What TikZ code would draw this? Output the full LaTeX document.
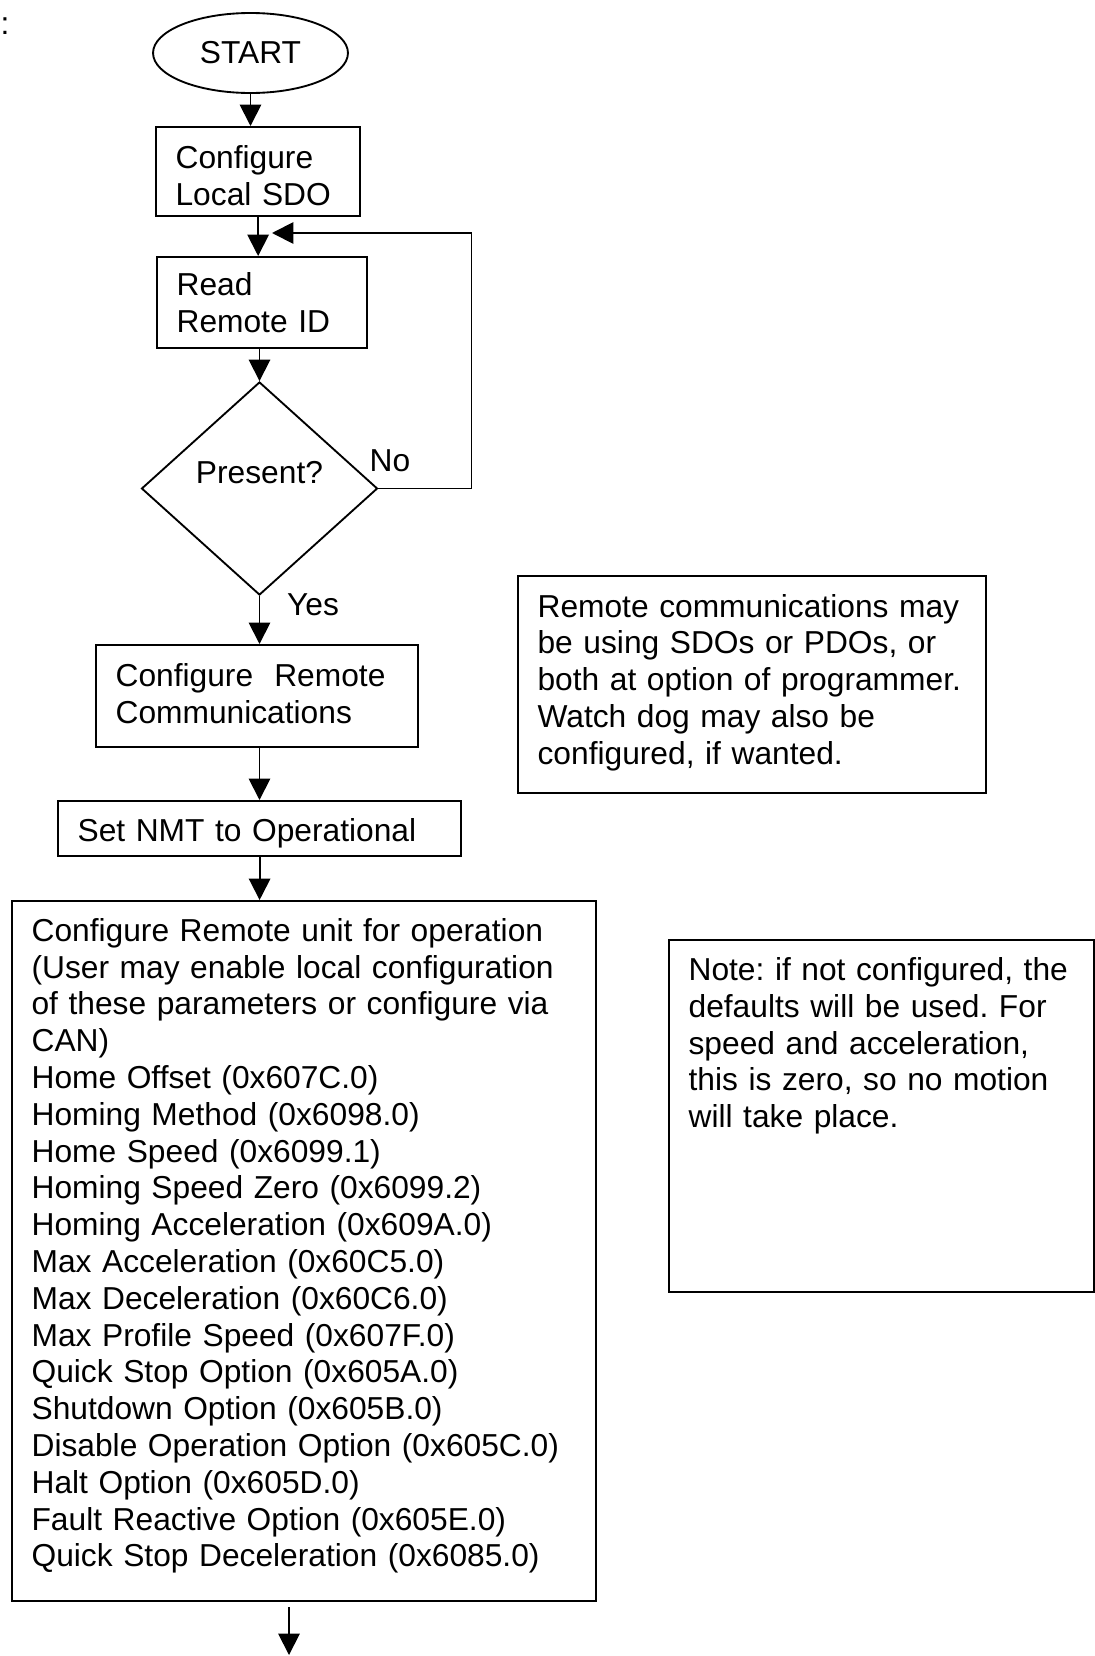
\documentclass[tikz,border=0pt]{standalone}
\usepackage{fontspec}
\setmainfont{Liberation Sans}
\usepackage{tikz}
\usetikzlibrary{positioning,arrows.meta,shapes.geometric,calc}

\begin{document}
\frenchspacing
\begin{tikzpicture}[x=0.375pt,y=-0.375pt,
    font=\fontsize{11.9}{13.8}\selectfont,
    procbox/.style={draw,line width=0.85pt,rectangle,anchor=north west,align=left,inner xsep=7.3pt,inner ysep=0pt},
    arr/.style={line width=0.7pt,-{Triangle[length=8pt,width=8pt]}}]
  \useasboundingbox (0,0) rectangle (1095,1656);
  % stray colon, top left
  \node (colon) at (5,26) {:};
  % main column
  \node[draw,ellipse,line width=0.7pt,minimum width=73.1pt,minimum height=30pt,inner sep=0pt] (start) at (250.5,53) {START};
  \node[procbox,text width=61.9pt,minimum height=33.4pt,text height=11.6pt] (local) at (155,126) {Configure\\Local SDO};
  \node[procbox,text width=64.15pt,minimum height=34.1pt] (read) at (156,256) {Read\\Remote ID};
  \node[draw,diamond,line width=0.7pt,minimum width=88.5pt,minimum height=79.9pt,inner sep=0pt,
        text height=8.6pt,text depth=12pt] (present) at (259.5,488.5) {Present?};
  \node[procbox,text width=106.15pt,minimum height=38.25pt,text depth=15.8pt] (remote) at (95,644) {Configure\ \ Remote\\Communications};
  \node[procbox,text width=136.5pt,minimum height=20.6pt,text height=12pt,text depth=2.5pt] (nmt) at (57,800) {Set NMT to Operational};
  \node[procbox,text width=204.4pt,minimum height=262.5pt,text depth=241pt] (params) at (11,900) {Configure Remote unit for operation\\
    (User may enable local configuration\\
    of these parameters or configure via\\
    CAN)\\
    Home Offset (0x607C.0)\\
    Homing Method (0x6098.0)\\
    Home Speed (0x6099.1)\\
    Homing Speed Zero (0x6099.2)\\
    Homing Acceleration (0x609A.0)\\
    Max Acceleration (0x60C5.0)\\
    Max Deceleration (0x60C6.0)\\
    Max Profile Speed (0x607F.0)\\
    Quick Stop Option (0x605A.0)\\
    Shutdown Option (0x605B.0)\\
    Disable Operation Option (0x605C.0)\\
    Halt Option (0x605D.0)\\
    Fault Reactive Option (0x605E.0)\\
    Quick Stop Deceleration (0x6085.0)};
  % side notes
  \node[procbox,text width=160.9pt,minimum height=81.4pt,text depth=59.3pt] (commnote) at (517,575) {Remote communications may\\
    be using SDOs or PDOs, or\\
    both at option of programmer.\\
    Watch dog may also be\\
    configured, if wanted.};
  \node[procbox,text width=144.8pt,inner ysep=6.5pt,text height=8.6pt,text depth=110.4pt] (defnote) at (668,939) {Note: if not configured, the\\
    defaults will be used. For\\
    speed and acceleration,\\
    this is zero, so no motion\\
    will take place.};
  % branch labels
  \node (no) at (390,461) {No};
  \node (yes) at (313,605) {Yes};
  % connectors
  \coordinate (merge) at (272,233);
  \coordinate (out) at (289,1655);
  \draw[arr] (start.south) -- (start.south |- local.north);
  \draw[arr] (local.south) -- (local.south |- read.north);
  \draw[arr] (read.south -| present.north) -- (present.north);
  \draw[arr] (present.east) -- ++(93,0) |- (merge);
  \draw[arr] (present.south) -- (present.south |- remote.north);
  \draw[arr] (present.south |- remote.south) -- (present.south |- nmt.north);
  \draw[arr] (nmt.south) -- (nmt.south |- params.north);
  \draw[arr] ($(params.south -| out)+(0,5)$) -- (out);
\end{tikzpicture}
\end{document}
